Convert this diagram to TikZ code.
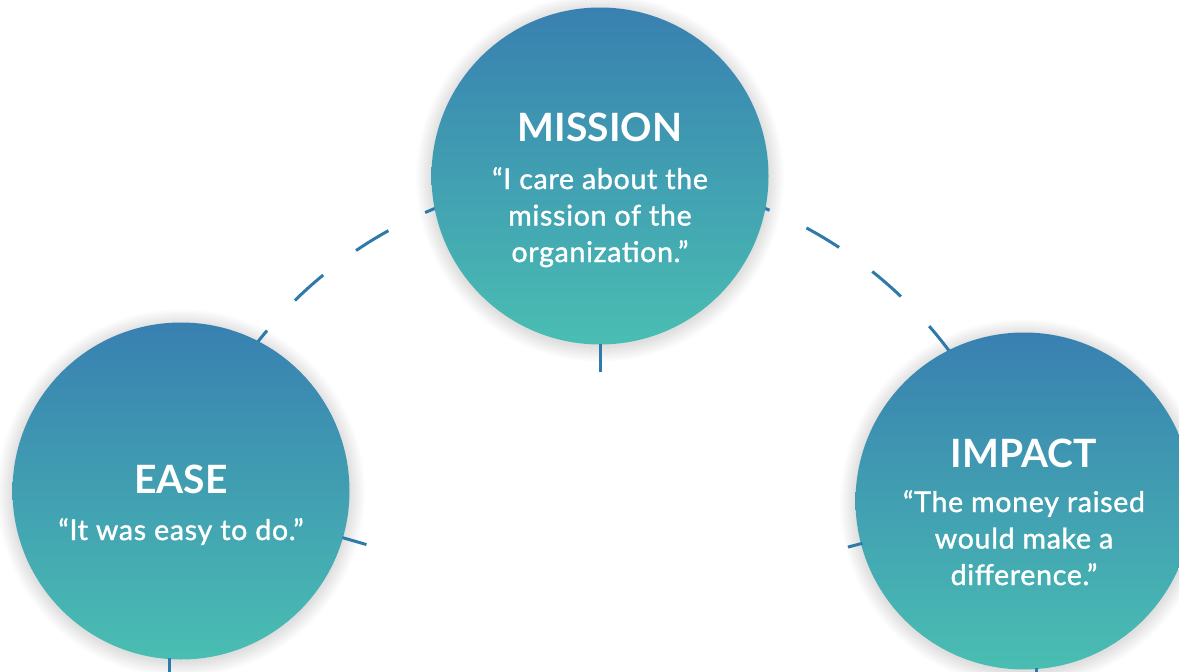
\documentclass[tikz,border=0pt]{standalone}
\usepackage{fontspec}
\setmainfont{Lato}
\newfontfamily\quotefont{Lato}[FakeBold=1.3, LetterSpace=2.5]
\usetikzlibrary{calc}
\definecolor{topblue}{HTML}{3880B1}
\definecolor{bottomteal}{HTML}{4ABEB2}
\definecolor{dashblue}{HTML}{2E7AAA}
\tikzset{
  bubble/.style={circle, minimum size=337pt, inner sep=0pt,
    top color=topblue, bottom color=bottomteal},
  softshadow/.style={fill=black, fill opacity=0.007},
  bubbletitle/.style={anchor=base, text=white, font=\bfseries\fontsize{39}{39}\selectfont, inner sep=0pt},
  bubblequote/.style={anchor=base, text=white, align=center, font=\quotefont\fontsize{28.5}{36.5}\selectfont, inner sep=0pt},
  arcline/.style={draw=dashblue, line width=3pt, dash pattern=on 38pt off 41pt},
  tick/.style={draw=dashblue, line width=3pt}
}
\begin{document}
\begin{tikzpicture}[x=1pt,y=-1pt]
\useasboundingbox[fill=white] (0,0) rectangle (1179,672);
\coordinate (big) at (600,612);
\coordinate (pm) at (600,176);
\coordinate (pe) at (181,491);
\coordinate (pi) at (1024,501);
% soft shadows
\foreach \p in {pm,pe,pi}{
  \foreach \k in {1,...,16}{
    \fill[softshadow] ($(\p)+(0,2)$) circle ({168+\k});
  }
}
% dashed arc through the three centres
\draw[arcline] ($(big)+(144.78:436pt)$) arc[start angle=144.78, end angle=20, radius=436pt];
% bubbles
\node[bubble] (mission) at (pm) {};
\node[bubble] (ease) at (pe) {};
\node[bubble] (impact) at (pi) {};
% ticks
\draw[tick] ($(mission)!168pt!(big)$) -- ($(mission)!196pt!(big)$);
\draw[tick] ($(ease)!168pt!(big)$) -- ($(ease)!193pt!(big)$);
\draw[tick] ($(impact)!167pt!(big)$) -- ($(impact)!182pt!(big)$);
\coordinate (easebot) at (169,658);
\coordinate (impactbot) at (1036,668);
\draw[tick] (easebot) -- ++(0,16);
\draw[tick] (impactbot) -- ++(0,6);
% texts
\node[bubbletitle] (missiont) at (600,141) {MISSION};
\node[bubblequote] (missionq) at (600,262) {“I care about the\\mission of the\\organization.”};
\node[bubbletitle] (easet) at (181,493) {EASE};
\node[bubblequote] (easeq) at (181,540) {“It was easy to do.”};
\node[bubbletitle] (impactt) at (1024,467) {IMPACT};
\node[bubblequote] (impactq) at (1024,585) {“The money raised\\would make a\\difference.”};
\end{tikzpicture}
\end{document}
